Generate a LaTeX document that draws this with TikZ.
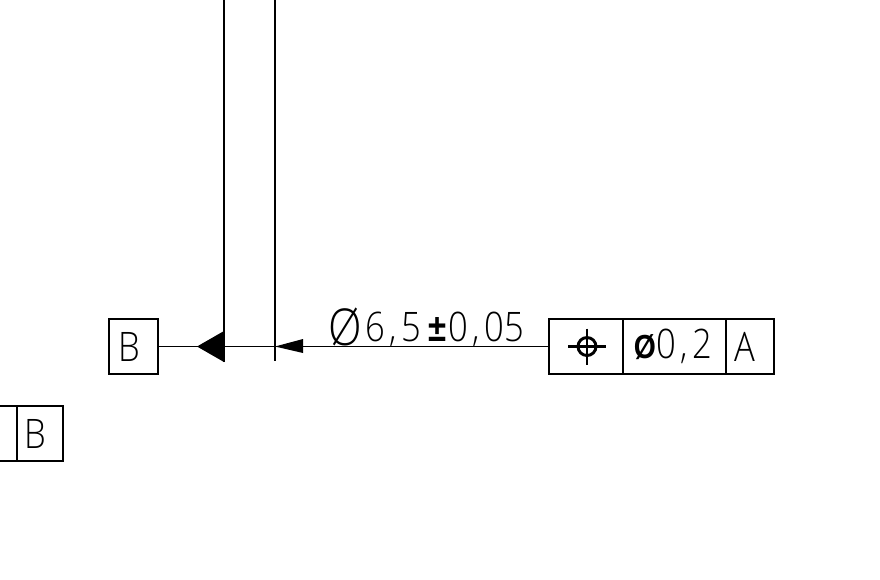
\documentclass[tikz,border=0pt]{standalone}
\usepackage{fontspec}
\usetikzlibrary{positioning, arrows.meta}
\setmainfont{Open Sans Light}
\newfontfamily\boldfont{Liberation Sans}
\newcommand{\narrow}[1]{\scalebox{.85}[1]{#1}}
% spacing of the commas in the drawing lettering
\newcommand{\cm}{\kern4pt,\kern4pt}
\newcommand{\bigO}{\raisebox{-3pt}{\scalebox{1.08}[1.25]{Ø}}}
\tikzset{
	cell/.style={rectangle, draw, line width=1pt, minimum height=41.25pt, inner sep=0pt, outer sep=0pt, font=\fontsize{30.5}{34}\selectfont},
	thinline/.style={line width=.9pt},
	thickline/.style={line width=1.5pt},
	plain/.style={inner sep=0pt, outer sep=0pt, font=\fontsize{30.5}{34}\selectfont}
}
\begin{document}
\begin{tikzpicture}[x=.75pt, y=-.75pt]
	\useasboundingbox (0,0) rectangle (880,579);
	\clip (0,0) rectangle (880,579);
	% Nodes
	\node (datumB) [cell, minimum width=36.75pt] at (133.5,346.5) {\narrow{B}\kern6.8pt};
	\node (pos) [cell, minimum width=55.5pt] at (586,346.5) {};
	\node (tol) [cell, minimum width=77.25pt, right=0pt of pos] {\narrow{{\boldfont\bfseries\fontsize{25}{25}\selectfont Ø}\kern.5pt 0\cm 2}\kern2pt};
	\node (refA) [cell, minimum width=36pt, right=0pt of tol] {\narrow{A}\kern7pt};
	\node (refB) [cell, minimum width=34.5pt] at (40,433.5) {\narrow{B}\kern6.8pt};
	\node (refX) [cell, minimum width=36pt, left=0pt of refB] {\narrow{A}\kern7pt};
	\node (size) [plain, anchor=base west] at (328,341) {\bigO\kern3pt\narrow{6\cm 5}\kern5pt{\boldfont\bfseries\fontsize{29}{29}\selectfont\narrow{±}}\kern1.5pt\narrow{0\cm 05}};
	\coordinate (topL) at (224,0);
	\coordinate (botL) at (224,362);
	\coordinate (topR) at (275,0);
	\coordinate (botR) at (275,361);
	\coordinate (tipL) at (197,346.5);
	\coordinate (tipR) at (275,346.5);
	\coordinate (baseR) at (303,346.5);

	% Edges
	\draw [thickline] (topL) -- (botL);
	\draw [thickline] (topR) -- (botR);
	\draw [thinline] (datumB) -- (tipL);
	\draw [thinline] (tipL) -- (tipR);
	\draw [thinline] (baseR) -- (pos);
	\fill (tipL) -- (224,331) -- (botL) -- cycle;
	\fill (tipR) -- (303,339) -- (303,353) -- cycle;

	% Symbol
	\draw [line width=2.2pt] ([xshift=.75pt]pos.center) circle (9);
	\draw [line width=2.2pt] ([xshift=-13.5pt]pos.center) -- ([xshift=15pt]pos.center);
	\draw [line width=2.2pt] ([xshift=.75pt,yshift=13.5pt]pos.center) -- ([xshift=.75pt,yshift=-13.5pt]pos.center);
\end{tikzpicture}
\end{document}
